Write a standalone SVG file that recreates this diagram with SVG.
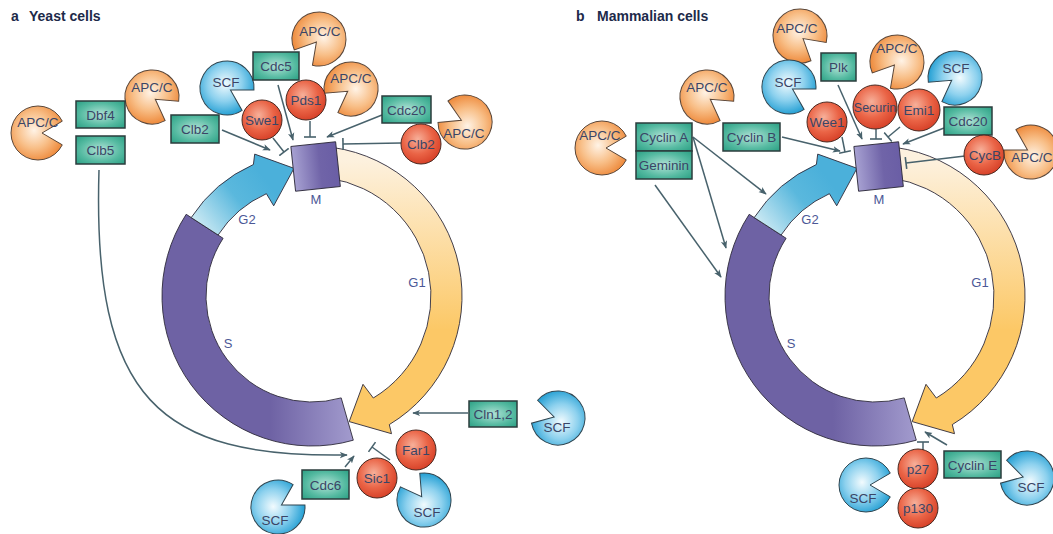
<svg xmlns="http://www.w3.org/2000/svg" xmlns:xlink="http://www.w3.org/1999/xlink" width="1053" height="534" viewBox="0 0 1053 534">
<style>
.t{font-family:"Liberation Sans",Arial,sans-serif;font-size:13.5px;fill:#3a4566;text-anchor:middle}
.ttl{font-family:"Liberation Sans",Arial,sans-serif;font-size:14px;font-weight:bold;fill:#1d2a4a}
.ph{font-family:"Liberation Sans",Arial,sans-serif;font-size:13px;fill:#4c5896;text-anchor:middle}
.apc{fill:url(#gApc);stroke:#5a4638;stroke-width:1}
.scf{fill:url(#gScf);stroke:#2f4550;stroke-width:1}
.red{fill:url(#gRed);stroke:#4a2a22;stroke-width:1}
.box{fill:url(#gBox);stroke:#2b3d3d;stroke-width:1.5}
.ln{stroke:#48626c;stroke-width:1.5;fill:none}
.arr{marker-end:url(#ah)}
.inh{marker-end:url(#tb)}
.band{stroke:#2e2a3a;stroke-width:0.9}
</style>
<defs>
<radialGradient id="gApc" cx="0.45" cy="0.45" r="0.6"><stop offset="0" stop-color="#fff3e6"/><stop offset="0.55" stop-color="#f8bf88"/><stop offset="1" stop-color="#ee8a3c"/></radialGradient>
<radialGradient id="gScf" cx="0.45" cy="0.45" r="0.6"><stop offset="0" stop-color="#f2fbfe"/><stop offset="0.55" stop-color="#8dd1ee"/><stop offset="1" stop-color="#25a0d4"/></radialGradient>
<radialGradient id="gRed" cx="0.42" cy="0.38" r="0.62"><stop offset="0" stop-color="#f7b09a"/><stop offset="0.6" stop-color="#ea6446"/><stop offset="1" stop-color="#d8432a"/></radialGradient>
<radialGradient id="gBox" cx="0.5" cy="0.5" r="0.7"><stop offset="0" stop-color="#b2e2d6"/><stop offset="0.6" stop-color="#55baa1"/><stop offset="1" stop-color="#2a9f83"/></radialGradient>
<linearGradient id="gS" gradientUnits="userSpaceOnUse" x1="270" y1="0" x2="356" y2="0"><stop offset="0" stop-color="#6e62a4"/><stop offset="1" stop-color="#a49dcf"/></linearGradient>
<linearGradient id="gG1" gradientUnits="userSpaceOnUse" x1="0" y1="160" x2="0" y2="330"><stop offset="0" stop-color="#fdf1de"/><stop offset="1" stop-color="#fcc866"/></linearGradient>
<linearGradient id="gG2" gradientUnits="userSpaceOnUse" x1="195" y1="228" x2="262" y2="175"><stop offset="0" stop-color="#d4edf5"/><stop offset="0.6" stop-color="#5ab8dd"/><stop offset="1" stop-color="#4bb0da"/></linearGradient>
<linearGradient id="gM" x1="0" y1="0" x2="1" y2="0"><stop offset="0" stop-color="#a7a1d2"/><stop offset="0.6" stop-color="#7064a8"/><stop offset="1" stop-color="#6a5ea5"/></linearGradient>
<path id="pac" d="M24.27,11.84 A27,27 0 1 1 24.27,-11.84 L4,0 Z"/>
<marker id="ah" viewBox="0 0 10 10" refX="9" refY="5" markerWidth="8" markerHeight="8" markerUnits="userSpaceOnUse" orient="auto"><path d="M0,1 L10,5 L0,9 L2.5,5 Z" fill="#48626c"/></marker>
<marker id="tb" viewBox="0 0 4 12" refX="2" refY="6" markerWidth="4" markerHeight="12" markerUnits="userSpaceOnUse" orient="auto"><line x1="2" y1="0" x2="2" y2="12" stroke="#48626c" stroke-width="1.6"/></marker>
</defs>
<rect width="1053" height="534" fill="#ffffff"/>

<g id="titles">
<text class="ttl" x="11" y="21">a</text><text class="ttl" x="29" y="21">Yeast cells</text>
<text class="ttl" x="576" y="21">b</text><text class="ttl" x="597" y="21">Mammalian cells</text>
</g>

<!-- Panel a cycle -->
<g id="a-S"><path class="band" fill="url(#gS)" d="M353.3,440.2 A150,150 0 0 1 186.2,214.3 L223.1,238.3 A106,106 0 0 0 341.2,397.9 Z"/><text class="ph" x="228" y="348">S</text></g>
<g id="a-G2"><path class="band" fill="url(#gG2)" d="M191.2,217.6 A144,144 0 0 1 253.4,164.5 L254.7,154.1 L294,168.3 L273.7,205.8 L266.4,193.7 A112,112 0 0 0 218.1,235 Z"/><text class="ph" x="247" y="224">G2</text></g>
<g id="a-G1"><path class="band" fill="url(#gG1)" d="M332.9,147.5 A150,150 0 0 1 389.3,424.6 L391.5,433.7 L349.2,421.6 L363,384.3 L373.3,398 A119,119 0 0 0 328.6,178.2 Z"/><text class="ph" x="417" y="287">G1</text></g>
<g id="a-M"><rect class="band" fill="url(#gM)" x="-22.5" y="-22.5" width="45" height="45" transform="translate(315.6,166.5) rotate(-6)"/><text class="ph" x="316" y="204">M</text></g>

<!-- Panel b cycle -->
<g id="b-S" transform="translate(563,0)"><path class="band" fill="url(#gS)" d="M353.3,440.2 A150,150 0 0 1 186.2,214.3 L223.1,238.3 A106,106 0 0 0 341.2,397.9 Z"/><text class="ph" x="228" y="348">S</text></g>
<g id="b-G2" transform="translate(563,0)"><path class="band" fill="url(#gG2)" d="M191.2,217.6 A144,144 0 0 1 253.4,164.5 L254.7,154.1 L294,168.3 L273.7,205.8 L266.4,193.7 A112,112 0 0 0 218.1,235 Z"/><text class="ph" x="247" y="224">G2</text></g>
<g id="b-G1" transform="translate(563,0)"><path class="band" fill="url(#gG1)" d="M332.9,147.5 A150,150 0 0 1 389.3,424.6 L391.5,433.7 L349.2,421.6 L363,384.3 L373.3,398 A119,119 0 0 0 328.6,178.2 Z"/><text class="ph" x="417" y="287">G1</text></g>
<g id="b-M" transform="translate(563,0)"><rect class="band" fill="url(#gM)" x="-22.5" y="-22.5" width="45" height="45" transform="translate(315.6,166.5) rotate(-6)"/><text class="ph" x="316" y="204">M</text></g>

<g id="connectors">
<line class="ln arr" x1="222" y1="130" x2="270" y2="150"/>
<line class="ln inh" x1="273" y1="138" x2="284" y2="152"/>
<line class="ln arr" x1="278" y1="85" x2="293" y2="140"/>
<line class="ln inh" x1="310" y1="121" x2="310" y2="137"/>
<line class="ln arr" x1="382" y1="115" x2="327" y2="137"/>
<line class="ln inh" x1="401" y1="143" x2="343" y2="144"/>
<path class="ln arr" d="M99,170 C92,400 160,458 347,455"/>
<line class="ln arr" x1="345" y1="467" x2="354" y2="456"/>
<line class="ln inh" x1="390" y1="460" x2="372" y2="447"/>
<line class="ln arr" x1="468" y1="413" x2="413" y2="413"/>
<line class="ln arr" x1="782" y1="137" x2="840" y2="151"/>
<line class="ln inh" x1="842" y1="137" x2="845" y2="152"/>
<line class="ln arr" x1="838" y1="85" x2="862" y2="139"/>
<line class="ln inh" x1="876" y1="129" x2="876" y2="139"/>
<line class="ln inh" x1="900" y1="127" x2="888" y2="137"/>
<line class="ln arr" x1="944" y1="128" x2="903" y2="144"/>
<line class="ln inh" x1="965" y1="156" x2="906" y2="163"/>
<line class="ln arr" x1="693" y1="137" x2="766" y2="194"/>
<line class="ln arr" x1="693" y1="137" x2="726" y2="248"/>
<line class="ln arr" x1="655" y1="185" x2="721" y2="277"/>
<line class="ln arr" x1="947" y1="445" x2="925" y2="432"/>
<line class="ln inh" x1="923" y1="450" x2="923" y2="442"/>
</g>

<!-- Panel a pacmen -->
<g id="a-apc1"><use href="#pac" class="apc" transform="translate(38,133)"/><text class="t" x="38" y="127">APC/C</text></g>
<g id="a-apc2"><use href="#pac" class="apc" transform="translate(152,97) rotate(35)"/><text class="t" x="152" y="92">APC/C</text></g>
<g id="a-scf1"><use href="#pac" class="scf" transform="translate(227,88) rotate(30)"/><text class="t" x="226" y="87">SCF</text></g>
<g id="a-apc3"><use href="#pac" class="apc" transform="translate(319,39) rotate(130)"/><text class="t" x="320" y="36">APC/C</text></g>
<g id="a-apc4"><use href="#pac" class="apc" transform="translate(351,89) rotate(145)"/><text class="t" x="351" y="83">APC/C</text></g>
<g id="a-apc5"><use href="#pac" class="apc" transform="translate(465,122) rotate(205)"/><text class="t" x="464" y="138">APC/C</text></g>
<g id="a-scf2"><use href="#pac" class="scf" transform="translate(558,418) rotate(195)"/><text class="t" x="557" y="432">SCF</text></g>
<g id="a-scf3"><use href="#pac" class="scf" transform="translate(278,507) rotate(-30)"/><text class="t" x="275" y="525">SCF</text></g>
<g id="a-scf4"><use href="#pac" class="scf" transform="translate(424,500) rotate(235)"/><text class="t" x="427" y="517">SCF</text></g>

<!-- Panel b pacmen -->
<g id="b-apc1"><use href="#pac" class="apc" transform="translate(602,148)"/><text class="t" x="600" y="140">APC/C</text></g>
<g id="b-apc2"><use href="#pac" class="apc" transform="translate(707,97) rotate(35)"/><text class="t" x="707" y="92">APC/C</text></g>
<g id="b-apc3"><use href="#pac" class="apc" transform="translate(800,36) rotate(40)"/><text class="t" x="797" y="33">APC/C</text></g>
<g id="b-scf1"><use href="#pac" class="scf" transform="translate(789,87) rotate(30)"/><text class="t" x="788" y="87">SCF</text></g>
<g id="b-apc4"><use href="#pac" class="apc" transform="translate(897,62) rotate(130)"/><text class="t" x="897" y="53">APC/C</text></g>
<g id="b-scf2"><use href="#pac" class="scf" transform="translate(955,78) rotate(145)"/><text class="t" x="956" y="73">SCF</text></g>
<g id="b-apc5"><use href="#pac" class="apc" transform="translate(1031,152) rotate(210)"/><text class="t" x="1032" y="162">APC/C</text></g>
<g id="b-scf3"><use href="#pac" class="scf" transform="translate(866,485)"/><text class="t" x="863" y="503">SCF</text></g>
<g id="b-scf4"><use href="#pac" class="scf" transform="translate(1027,478) rotate(195)"/><text class="t" x="1031" y="492">SCF</text></g>

<!-- Boxes -->
<g id="a-dbf4"><rect class="box" x="76" y="101" width="49" height="27"/><text class="t" x="100.5" y="119.5">Dbf4</text></g>
<g id="a-clb5"><rect class="box" x="76" y="136" width="49" height="28"/><text class="t" x="100.5" y="155">Clb5</text></g>
<g id="a-clb2box"><rect class="box" x="171" y="115" width="48" height="28"/><text class="t" x="195" y="134">Clb2</text></g>
<g id="a-cdc5"><rect class="box" x="253" y="52" width="46" height="28"/><text class="t" x="276" y="71">Cdc5</text></g>
<g id="a-cdc20"><rect class="box" x="382" y="96" width="49" height="27"/><text class="t" x="406.5" y="114.5">Cdc20</text></g>
<g id="a-cln12"><rect class="box" x="469" y="401" width="48" height="26"/><text class="t" x="493" y="419">Cln1,2</text></g>
<g id="a-cdc6"><rect class="box" x="302" y="470" width="47" height="29"/><text class="t" x="325.5" y="489.5">Cdc6</text></g>
<g id="b-cyclinA"><rect class="box" x="636" y="123" width="56" height="28"/><text class="t" x="664" y="142">Cyclin A</text></g>
<g id="b-geminin"><rect class="box" x="636" y="151" width="56" height="28"/><text class="t" x="664" y="170">Geminin</text></g>
<g id="b-cyclinB"><rect class="box" x="723" y="123" width="57" height="28"/><text class="t" x="751.5" y="142">Cyclin B</text></g>
<g id="b-plk"><rect class="box" x="821" y="53" width="35" height="28"/><text class="t" x="838.5" y="72">Plk</text></g>
<g id="b-cdc20"><rect class="box" x="944" y="107" width="48" height="28"/><text class="t" x="968" y="126">Cdc20</text></g>
<g id="b-cyclinE"><rect class="box" x="944" y="451" width="57" height="27"/><text class="t" x="972.5" y="469.5">Cyclin E</text></g>

<!-- Red circles -->
<g id="a-pds1"><circle class="red" cx="306" cy="100" r="20"/><text class="t" x="306" y="105">Pds1</text></g>
<g id="a-swe1"><circle class="red" cx="262" cy="120" r="20"/><text class="t" x="262" y="125">Swe1</text></g>
<g id="a-clb2"><circle class="red" cx="421" cy="144" r="20"/><text class="t" x="421" y="149">Clb2</text></g>
<g id="a-far1"><circle class="red" cx="416" cy="450" r="20"/><text class="t" x="416" y="455">Far1</text></g>
<g id="a-sic1"><circle class="red" cx="377" cy="478" r="20"/><text class="t" x="377" y="483">Sic1</text></g>
<g id="b-wee1"><circle class="red" cx="827" cy="122" r="20"/><text class="t" x="827" y="127">Wee1</text></g>
<g id="b-securin"><circle class="red" cx="875" cy="107" r="22"/><text class="t" x="875" y="112" style="font-size:12.5px">Securin</text></g>
<g id="b-emi1"><circle class="red" cx="919" cy="110" r="21"/><text class="t" x="919" y="115">Emi1</text></g>
<g id="b-cycb"><circle class="red" cx="984" cy="155" r="20"/><text class="t" x="985" y="160">CycB</text></g>
<g id="b-p27"><circle class="red" cx="918" cy="469" r="20"/><text class="t" x="918" y="474">p27</text></g>
<g id="b-p130"><circle class="red" cx="918" cy="508" r="20"/><text class="t" x="918" y="513">p130</text></g>
</svg>
